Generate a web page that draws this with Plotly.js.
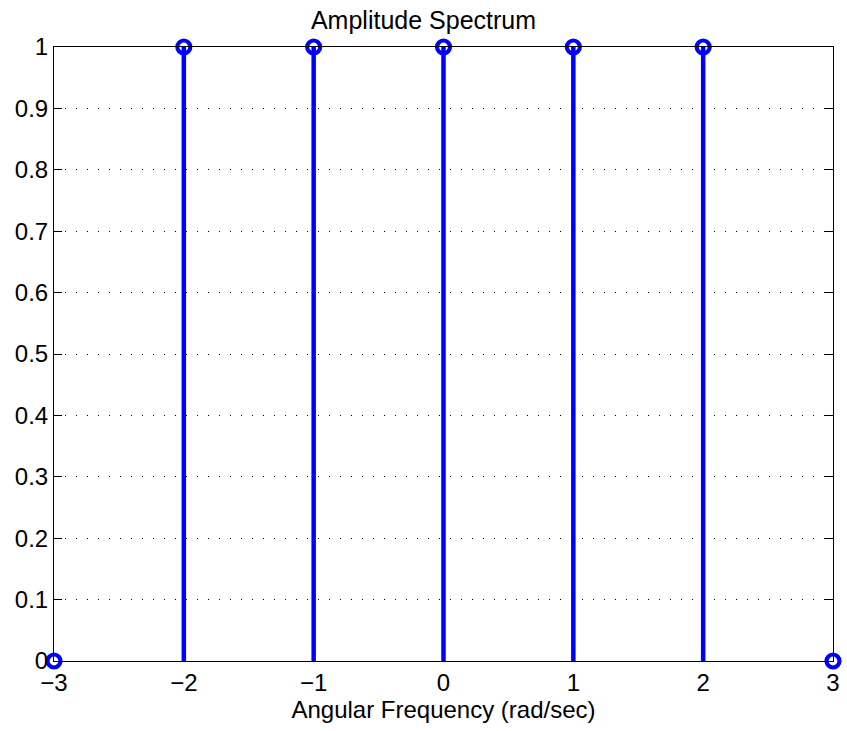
<!DOCTYPE html>
<html>
<head>
<meta charset="utf-8">
<script src="https://cdn.plot.ly/plotly-3.0.1.min.js"></script>
<style>html,body{margin:0;padding:0;background:#fff;}#chart{width:847px;height:731px;}</style>
</head>
<body>
<div id="chart"></div>
<script>
const freq = [-3, -2, -1, 0, 1, 2, 3];
const amplitude = [0, 1, 1, 1, 1, 1, 0];
const yTicks = [0, 0.1, 0.2, 0.3, 0.4, 0.5, 0.6, 0.7, 0.8, 0.9, 1];
const yTickText = ['0', '0.1', '0.2', '0.3', '0.4', '0.5', '0.6', '0.7', '0.8', '0.9', '1'];
const xTicks = [-3, -2, -1, 0, 1, 2, 3];

const stemX = [], stemY = [];
freq.forEach((f, i) => { stemX.push(f, f, null); stemY.push(0, amplitude[i], null); });

const fam = '"Liberation Sans", Arial, sans-serif';
const font = {family: fam, size: 24, color: '#000'};

const traces = [
  {x: stemX, y: stemY, mode: 'lines', line: {color: '#0000ff', width: 4.5}, hoverinfo: 'skip', cliponaxis: false},
  {x: freq, y: amplitude, mode: 'markers', cliponaxis: false,
   marker: {symbol: 'circle-open', size: 13, color: '#0000ff', line: {width: 4.2, color: '#0000ff'}}}
];

const layout = {
  width: 847, height: 731,
  margin: {l: 54, r: 14, t: 47, b: 70},
  paper_bgcolor: '#fff', plot_bgcolor: '#fff',
  showlegend: false,
  font: font,
  title: {text: 'Amplitude Spectrum', font: {family: fam, size: 25, color: '#000'}, x: 0.5, xanchor: 'center', y: 1 - 20/731, yanchor: 'middle'},
  xaxis: {
    range: [-3, 3], tickvals: xTicks, ticks: 'inside', ticklen: 8, tickcolor: '#000',
    showline: true, linecolor: '#000', linewidth: 1, mirror: 'ticks',
    showgrid: false, zeroline: false, tickfont: font,
    title: {text: 'Angular Frequency (rad/sec)', font: font, standoff: 2}
  },
  yaxis: {
    range: [0, 1], tickvals: yTicks, ticktext: yTickText, ticks: 'inside', ticklen: 8, tickcolor: '#000',
    showline: true, linecolor: '#000', linewidth: 1, mirror: 'ticks',
    showgrid: true, gridcolor: '#000', gridwidth: 1, griddash: '1px,10px',
    zeroline: false, tickfont: font
  }
};

Plotly.newPlot('chart', traces, layout, {displayModeBar: false, staticPlot: true});
</script>
</body>
</html>
